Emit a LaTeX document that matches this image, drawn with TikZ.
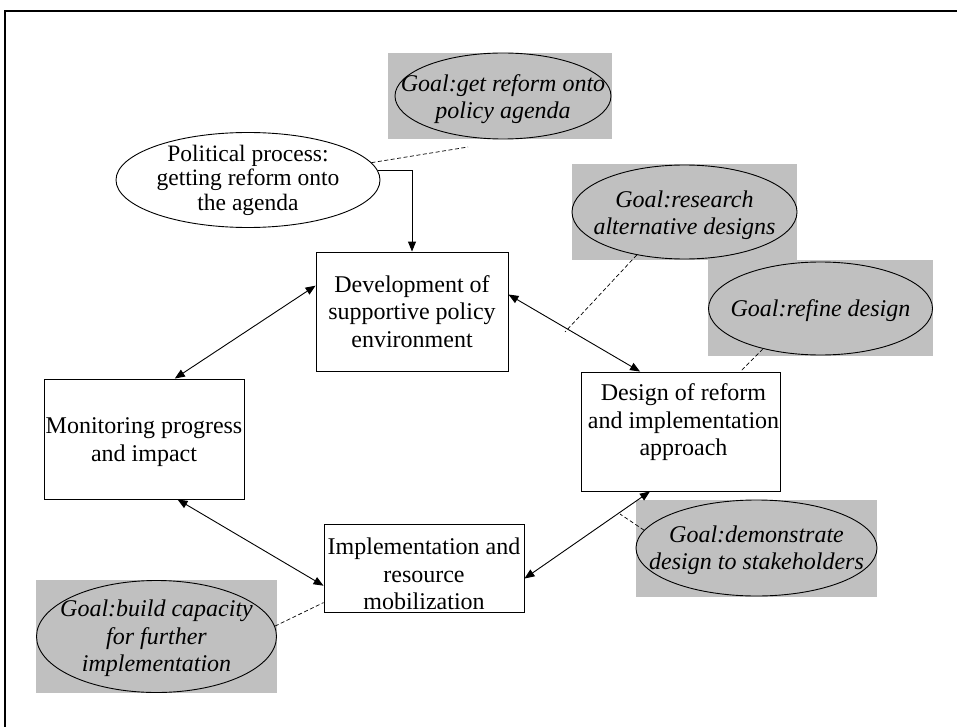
\documentclass[tikz,border=0pt]{standalone}
\usepackage{fontspec}
\setmainfont{Liberation Serif}
\usepackage{tikz}
\usetikzlibrary{shapes.geometric, arrows.meta, positioning, calc}
\definecolor{goalgray}{RGB}{192, 192, 192}
\definecolor{arrowcolor}{RGB}{0, 0, 0}
\newcommand{\stagefont}{\fontsize{24}{27.5}\selectfont}
\newcommand{\politicalfont}{\fontsize{23.5}{24.5}\selectfont}
\newcommand{\goalfont}{\fontsize{24}{27.5}\selectfont\itshape}
\tikzset{
    stage/.style={
        rectangle,
        draw=arrowcolor,
        line width=0.9pt,
        inner sep=0pt
    },
    stagetext/.style={
        align=center,
        font=\stagefont
    },
    political/.style={
        ellipse,
        draw=arrowcolor,
        line width=0.9pt,
        inner sep=0pt
    },
    politicaltext/.style={
        align=center,
        font=\politicalfont
    },
    goal/.style={
        ellipse,
        draw=arrowcolor,
        line width=0.9pt,
        inner sep=0pt
    },
    goalbg/.style={
        rectangle,
        fill=goalgray,
        inner sep=0pt
    },
    goaltext/.style={
        align=center,
        font=\goalfont
    },
    arrow/.style={
        line width=0.9pt,
        <->,
        >={Triangle[length=10pt, width=8pt]},
        color=arrowcolor
    },
    feed/.style={
        line width=0.9pt,
        ->,
        >={Triangle[length=10pt, width=8pt]},
        color=arrowcolor
    },
    link/.style={
        line width=0.7pt,
        dash pattern=on 4pt off 2.5pt,
        color=arrowcolor
    },
    frame/.style={
        line width=2pt,
        color=arrowcolor
    }
}
\begin{document}
\begin{tikzpicture}[x=1pt, y=-1pt]
    \useasboundingbox (0,0) rectangle (957,727);

    % Outer frame
    \draw [frame] (5,727) -- (5,11) -- (957,11);

    % Gray boxes behind the goals
    \node (polgoalbg) [goalbg, minimum width=224pt, minimum height=86pt] at (500,96) {};
    \node (resgoalbg) [goalbg, minimum width=225pt, minimum height=96pt] at (684.5,212) {};
    \node (refgoalbg) [goalbg, minimum width=225pt, minimum height=96pt] at (820.5,308) {};
    \node (demgoalbg) [goalbg, minimum width=241pt, minimum height=97pt] at (756.5,548.5) {};
    \node (capgoalbg) [goalbg, minimum width=241pt, minimum height=113pt] at (156.5,636.5) {};

    % Define goal ellipses
    \node (polgoal) [goal, minimum width=216pt, minimum height=86pt,
        label={[goaltext, yshift=-3pt]center:{Goal:get reform onto\\policy agenda}}] at (503,96) {};
    \node (resgoal) [goal, minimum width=225pt, minimum height=94pt,
        label={[goaltext, yshift=-3pt]center:{Goal:research\\alternative designs}}] at (684.5,212) {};
    \node (refgoal) [goal, minimum width=224pt, minimum height=93pt,
        label={[goaltext, yshift=-2pt]center:{Goal:refine design}}] at (820.5,308.5) {};
    \node (demgoal) [goal, minimum width=241pt, minimum height=96pt,
        label={[goaltext, yshift=-2pt]center:{Goal:demonstrate\\design to stakeholders}}] at (756.5,548) {};
    \node (capgoal) [goal, minimum width=240pt, minimum height=112pt,
        label={[goaltext, yshift=-2pt]center:{Goal:build capacity\\for further\\implementation}}] at (156.5,636.5) {};

    % Political process
    \node (political) [political, minimum width=264pt, minimum height=95pt,
        label={[politicaltext]center:{Political process:\\getting reform onto\\the agenda}}] at (248,180) {};

    % Define main stage nodes
    \node (dev) [stage, minimum width=192pt, minimum height=119pt,
        label={[stagetext]center:{Development of\\supportive policy\\environment}}] at (412,311.5) {};
    \node (design) [stage, minimum width=199pt, minimum height=119pt,
        label={[stagetext, yshift=9pt, xshift=3pt]center:{Design of reform\\and implementation\\approach}}] at (680.5,431.5) {};
    \node (impl) [stage, minimum width=200pt, minimum height=88pt,
        label={[stagetext, yshift=-6pt]center:{Implementation and\\resource\\mobilization}}] at (424,568) {};
    \node (monitor) [stage, minimum width=200pt, minimum height=120pt,
        label={[stagetext, yshift=-3pt]center:{Monitoring progress\\and impact}}] at (144,439) {};

    % Free ends of the dashed links
    \coordinate (polend) at (468,147);
    \coordinate (resend) at (565,332);
    \coordinate (demend) at (620,514);

    % Draw main arrows
    \draw [feed] (political.4) -| (dev.north);
    \draw [arrow] (dev.165) -- (monitor.63);
    \draw [arrow] (dev.10) -- (design.124);
    \draw [arrow] (design.243) -- (impl.-6);
    \draw [arrow] (monitor.299) -- (impl.190);

    % Dashed links to the goals
    \draw [link] (political.8) -- (polend);
    \draw [link] (resgoal.-138) -- (resend);
    \draw [link] (refgoal.215) -- (design.45);
    \draw [link] (demgoal.171) -- (demend);
    \draw [link] (capgoal.5) -- (impl.199);

\end{tikzpicture}
\end{document}
